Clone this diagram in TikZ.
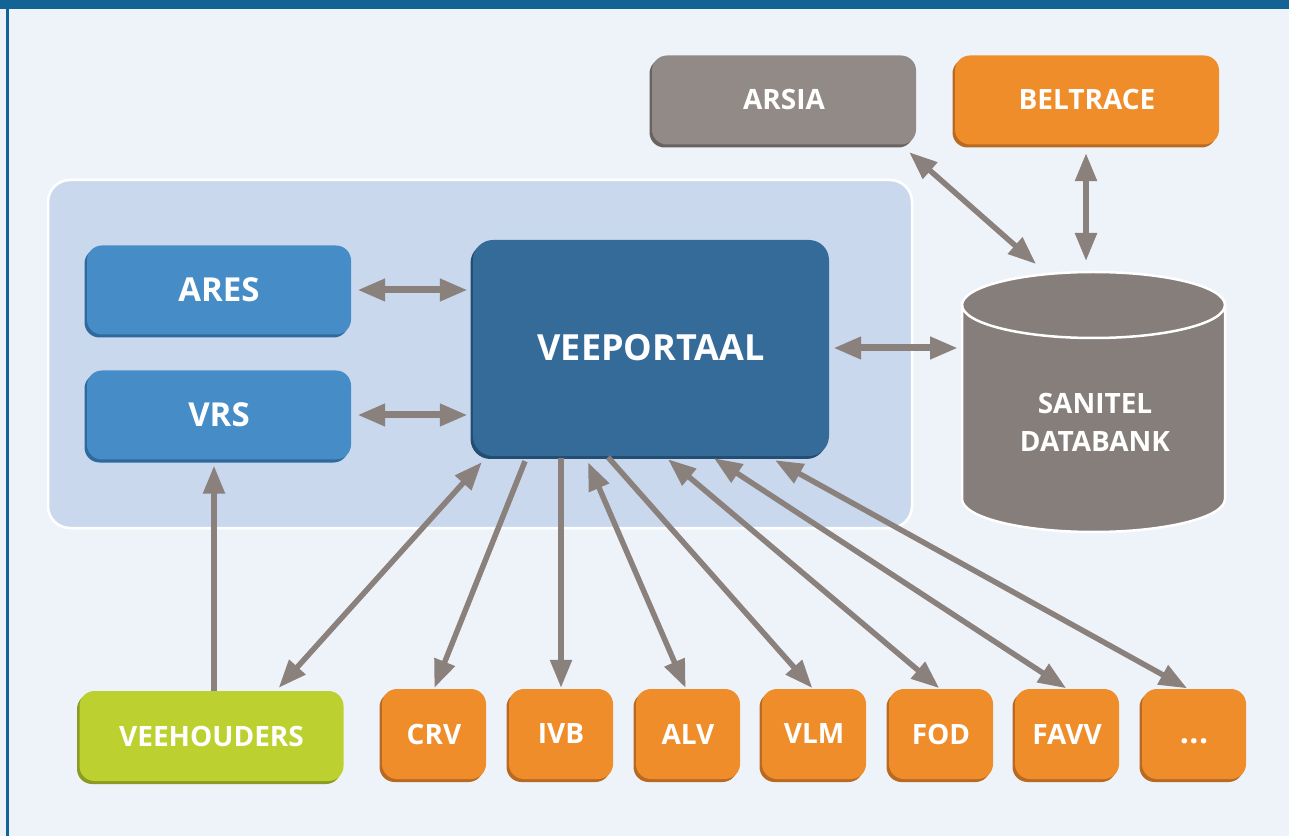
\documentclass[tikz,border=0pt]{standalone}
\usepackage{fontspec}
\setmainfont{Open Sans}
\usetikzlibrary{arrows.meta, shadows}

\definecolor{topblue}{RGB}{19,99,148}
\definecolor{pagebg}{RGB}{238,243,250}
\definecolor{panelbg}{RGB}{202,216,238}
\definecolor{linkgray}{RGB}{138,129,125}
\definecolor{stonegray}{RGB}{145,138,134}
\definecolor{stonedark}{RGB}{105,99,96}
\definecolor{cylgray}{RGB}{134,126,122}
\definecolor{orangefill}{RGB}{240,141,43}
\definecolor{orangedark}{RGB}{184,106,34}
\definecolor{aresblue}{RGB}{70,141,200}
\definecolor{aresdark}{RGB}{46,106,158}
\definecolor{portalblue}{RGB}{53,107,153}
\definecolor{portaldark}{RGB}{35,77,115}
\definecolor{limegreen}{RGB}{188,208,48}
\definecolor{limedark}{RGB}{139,154,34}

\tikzset{
  box/.style={rounded corners=15pt, inner sep=0pt, text=white, align=center,
    font=\bfseries\fontsize{28}{34}\selectfont},
  orangebox/.style={box, fill=orangefill, minimum width=104pt, minimum height=90pt,
    general shadow={shadow xshift=-2.5pt, shadow yshift=-3pt, fill=orangedark}},
  widebox/.style={box, minimum width=264pt, minimum height=89pt},
  stonebox/.style={widebox, fill=stonegray,
    general shadow={shadow xshift=-2.5pt, shadow yshift=-3pt, fill=stonedark}},
  tracebox/.style={widebox, fill=orangefill,
    general shadow={shadow xshift=-2.5pt, shadow yshift=-3pt, fill=orangedark}},
  aresbox/.style={widebox, fill=aresblue, font=\bfseries\fontsize{33}{38}\selectfont,
    general shadow={shadow xshift=-2.5pt, shadow yshift=-3pt, fill=aresdark}},
  farmbox/.style={widebox, fill=limegreen, minimum height=90pt,
    general shadow={shadow xshift=-2.5pt, shadow yshift=-3pt, fill=limedark}},
  portalbox/.style={box, fill=portalblue, rounded corners=20pt,
    minimum width=356pt, minimum height=216pt,
    font=\bfseries\fontsize{36}{40}\selectfont,
    general shadow={shadow xshift=-2.5pt, shadow yshift=-3pt, fill=portaldark}},
  dbtext/.style={text=white, align=center, inner sep=0pt,
    font=\bfseries\fontsize{28}{38}\selectfont},
  biarrow/.style={draw=linkgray, line width=5.5pt, {Triangle[length=28pt, width=21pt]}-{Triangle[length=28pt, width=21pt]}},
  uniarrow/.style={draw=linkgray, line width=5.5pt, -{Triangle[length=28pt, width=21pt]}},
  wide/.style={line width=7pt}
}

\begin{document}
\begin{tikzpicture}[x=1pt, y=1pt]
  \useasboundingbox (0,0) rectangle (1289,836);
  % background and frame
  \fill[pagebg] (0,0) rectangle (1289,836);
  \fill[topblue] (0,827) rectangle (1289,836);
  \fill[topblue] (6,0) rectangle (8.5,827);
  \filldraw[fill=panelbg, draw=white, line width=2.5pt, rounded corners=22pt] (48,308) rectangle (912,656);

  % boxes
  \node[stonebox] (arsia) at (784,736) {ARSIA};
  \node[tracebox] (beltrace) at (1087,736) {BELTRACE};
  \node[aresbox] (ares) at (219,546) {ARES};
  \node[aresbox] (vrs) at (219,421) {VRS};
  \node[portalbox] (vp) at (651,488) {VEEPORTAAL};
  \node[farmbox] (veeh) at (211.5,100) {VEEHOUDERS};
  \node[orangebox] (crv) at (434,102) {CRV};
  \node[orangebox] (ivb) at (561,102) {IVB};
  \node[orangebox] (alv) at (688,102) {ALV};
  \node[orangebox] (vlm) at (814,102) {VLM};
  \node[orangebox] (fod) at (941,102) {FOD};
  \node[orangebox] (favv) at (1067,102) {FAVV};
  \node[orangebox] (dots) at (1194,102) {\vphantom{A}{\fontsize{32}{34}\selectfont.\kern0.5pt.\kern0.5pt.}};

  % database cylinder
  \coordinate (cyltop) at (1093.5,531);
  \coordinate (cylbot) at (1093.5,337);
  \filldraw[fill=cylgray, draw=white, line width=2.5pt]
    ([xshift=-131.5pt]cyltop) -- ([xshift=-131.5pt]cylbot)
    arc[start angle=180, end angle=360, x radius=131.5pt, y radius=33pt]
    -- ([xshift=131.5pt]cyltop)
    arc[start angle=0, end angle=180, x radius=131.5pt, y radius=33pt] -- cycle;
  \draw[white, line width=2.5pt] ([xshift=-131.5pt]cyltop)
    arc[start angle=180, end angle=360, x radius=131.5pt, y radius=33pt];
  \node[dbtext] (san) at (1095,414) {SANITEL\\DATABANK};
  \coordinate (cylwest) at (962,488);
  \coordinate (cylarsia) at (1036,572);
  \coordinate (cylbeltrace) at (1086,575);

  % connectors
  \draw[biarrow, wide, shorten <=6pt, shorten >=5pt] (ares.east) -- (ares.east -| vp.west);
  \draw[biarrow, wide, shorten <=6pt, shorten >=5pt] (vrs.east) -- (vrs.east -| vp.west);
  \draw[biarrow, wide, shorten <=4pt, shorten >=4pt] (vp.east) -- (cylwest);
  \draw[biarrow] ([xshift=-7pt,yshift=-7.5pt]arsia.south east) -- (cylarsia);
  \draw[biarrow] ([xshift=-1pt,yshift=-8.5pt]beltrace.south) -- (cylbeltrace);
  \draw[uniarrow, shorten >=6pt] ([xshift=2.5pt]veeh.north) -- ([xshift=2.5pt]veeh.north |- vrs.south);
  \draw[biarrow] ([xshift=-65pt,yshift=3pt]veeh.north east) -- ([xshift=9pt,yshift=-6pt]vp.south west);
  \draw[uniarrow, shorten >=1pt] ([xshift=-126pt,yshift=-5pt]vp.south) -- (crv.north);
  \draw[uniarrow, shorten <=2pt, shorten >=1pt] (ivb.north |- vp.south) -- (ivb.north);
  \draw[biarrow, shorten >=1pt] ([xshift=-63pt,yshift=-6pt]vp.south) -- ([xshift=-2pt]alv.north);
  \draw[uniarrow, shorten >=1pt] ([xshift=-43pt,yshift=-1pt]vp.south) -- ([xshift=-1pt]vlm.north);
  \draw[biarrow, shorten >=1pt] ([xshift=17pt,yshift=-3pt]vp.south) -- ([xshift=-1pt]fod.north);
  \draw[biarrow, shorten >=1pt] ([xshift=63pt,yshift=-2pt]vp.south) -- (favv.north);
  \draw[biarrow, shorten >=1pt] ([xshift=124pt,yshift=-4pt]vp.south) -- ([xshift=-6pt]dots.north);
\end{tikzpicture}
\end{document}
